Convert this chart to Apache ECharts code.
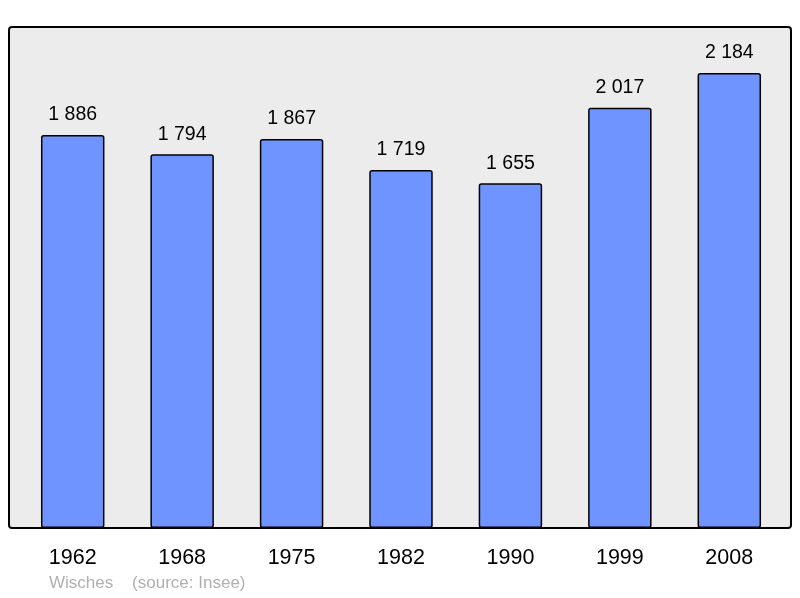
<!DOCTYPE html>
<html><head><meta charset="utf-8">
<script src="https://cdn.jsdelivr.net/npm/echarts@6/dist/echarts.min.js"></script>
<style>html,body{margin:0;padding:0;background:#fff}#c{width:800px;height:598px}</style>
</head><body><div id="c"></div>
<script>
const years = ['1962','1968','1975','1982','1990','1999','2008'];
const population = [1886, 1794, 1867, 1719, 1655, 2017, 2184];
const fmt = v => String(v).replace(/\B(?=(\d{3})+(?!\d))/g, ' ');
const chart = echarts.init(document.getElementById('c'));
chart.setOption({
  animation: false,
  textStyle: {fontFamily: 'Liberation Sans'},
  graphic: [
    {type: 'rect', z: -10, shape: {x: 9, y: 27, width: 782, height: 501, r: 3},
     style: {fill: '#ececec', stroke: '#000', lineWidth: 2}},
    {type: 'text', left: 49, top: 575,
     style: {text: 'Wisches    (source: Insee)', fill: '#b0b0b0', font: '17px Liberation Sans'}}
  ],
  grid: {left: 18, right: 16, top: 28, bottom: 70},
  xAxis: {type: 'category', data: years,
    axisLine: {show: false}, axisTick: {show: false},
    axisLabel: {color: '#000', fontSize: 21.5, margin: 19}},
  yAxis: {type: 'value', min: 0, max: 2400, show: false, splitLine: {show: false}},
  series: [{type: 'bar', data: population, barWidth: '58%',
    itemStyle: {color: '#7094ff', borderColor: '#000', borderWidth: 1.5, borderRadius: 2},
    label: {show: true, position: 'top', distance: 10, color: '#000', fontSize: 19.5,
      formatter: p => fmt(p.value)}}]
});
</script></body></html>
